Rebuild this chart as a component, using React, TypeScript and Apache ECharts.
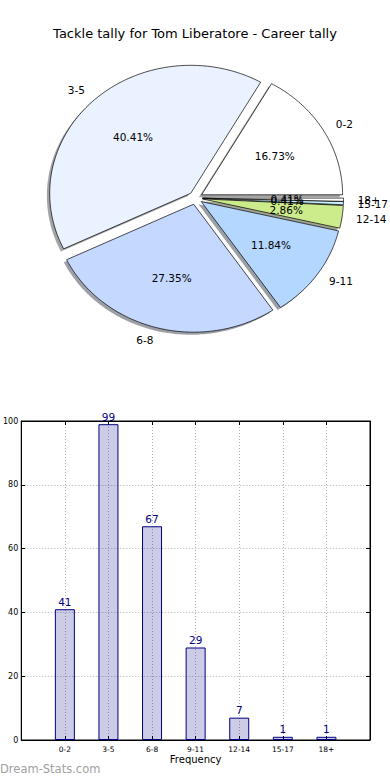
import React, { useEffect, useRef } from "react";
import * as echarts from "echarts";

const categories = ["0-2", "3-5", "6-8", "9-11", "12-14", "15-17", "18+"];
const counts = [41, 99, 67, 29, 7, 1, 1];
const sliceColors = ["#ffffff", "#eaf2ff", "#c5d8ff", "#b4d7ff", "#ccec8c", "#c8f0ff", "#ffffff"];
const titleText = "Tackle tally for Tom Liberatore - Career tally";
const xAxisName = "Frequency";
const watermark = "Dream-Stats.com";

const FONT = "DejaVu Sans";

export default function App() {
  const ref = useRef<HTMLDivElement>(null);
  useEffect(() => {
    document.body.style.margin = "0";
    const chart = echarts.init(ref.current!, null, { renderer: "svg" });
    const total = counts.reduce((a, b) => a + b, 0);
    const cum: number[] = [0];
    counts.forEach((v, i) => cum.push(cum[i] + v));

    const cx = 195.5;
    const cy = 198;
    const rx = 141;
    const ry = 128;
    const EXPL = 0.05;
    const SH = 0.02;

    const hexToRgb = (h: string) => {
      const n = parseInt(h.slice(1), 16);
      return [(n >> 16) & 255, (n >> 8) & 255, n & 255];
    };

    const renderItem = (params: any, api: any) => {
      const i = params.dataIndex;
      const v = api.value(0);
      const a0 = (cum[i] / total) * Math.PI * 2;
      const a1 = a0 + (v / total) * Math.PI * 2;
      const mid = (a0 + a1) / 2;
      const ox = cx + EXPL * rx * Math.cos(mid);
      const oy = cy - EXPL * ry * Math.sin(mid);
      const n = Math.max(2, Math.ceil((a1 - a0) / (Math.PI / 180)));
      const pts: number[][] = [[ox, oy]];
      for (let k = 0; k <= n; k++) {
        const t = a0 + ((a1 - a0) * k) / n;
        pts.push([ox + rx * Math.cos(t), oy - ry * Math.sin(t)]);
      }
      const sdx = -SH * rx;
      const sdy = SH * ry;
      const spts = pts.map((p) => [p[0] + sdx, p[1] + sdy]);
      const rgb = hexToRgb(sliceColors[i]);
      const shadowFill = `rgba(${Math.round(rgb[0] * 0.3)},${Math.round(rgb[1] * 0.3)},${Math.round(rgb[2] * 0.3)},0.5)`;
      const lx = cx + (1.1 + EXPL) * rx * Math.cos(mid);
      const ly = cy - (1.1 + EXPL) * ry * Math.sin(mid);
      const px = cx + (0.6 + EXPL) * rx * Math.cos(mid);
      const py = cy - (0.6 + EXPL) * ry * Math.sin(mid);
      return {
        type: "group",
        children: [
          { type: "polygon", shape: { points: spts }, style: { fill: shadowFill }, z2: 0, silent: true },
          {
            type: "polygon",
            shape: { points: pts },
            style: { fill: sliceColors[i], stroke: "#000", lineWidth: 0.7 },
            z2: 5,
          },
          {
            type: "text",
            x: lx,
            y: ly,
            style: {
              text: categories[i],
              fontSize: 10.5,
              fontFamily: FONT,
              fill: "#000",
              align: Math.cos(mid) > 0 ? "left" : "right",
              verticalAlign: "middle",
            },
            z2: 10,
          },
          {
            type: "text",
            x: px,
            y: py,
            style: {
              text: ((v / total) * 100).toFixed(2) + "%",
              fontSize: 10.5,
              fontFamily: FONT,
              fill: "#000",
              align: "center",
              verticalAlign: "middle",
            },
            z2: 10,
          },
        ],
      };
    };

    const gridLine = { show: true, lineStyle: { type: [1, 2] as any, color: "#b0b0b0", width: 1 } };
    const frameLine = { show: true, onZero: false, lineStyle: { color: "#000" } };
    const tick = { show: true, inside: true, length: 4, lineStyle: { color: "#000" } };

    chart.setOption({
      animation: false,
      textStyle: { fontFamily: FONT },
      title: {
        text: titleText,
        left: "center",
        top: 22,
        textStyle: { fontSize: 13, fontWeight: "normal", color: "#000", fontFamily: FONT },
      },
      graphic: [
        {
          type: "text",
          left: 0,
          top: 763,
          style: { text: watermark, fontSize: 11.5, fontFamily: FONT, fill: "#a0a0a0" },
        },
      ],
      grid: { left: 19, right: 20, top: 421, bottom: 40, show: true, borderColor: "#000", borderWidth: 1, backgroundColor: "transparent" },
      xAxis: [
        {
          type: "value",
          min: -1,
          max: 7,
          interval: 1,
          axisLine: frameLine,
          axisTick: tick,
          axisLabel: {
            fontSize: 7.5,
            color: "#000",
            margin: 5,
            fontFamily: FONT,
            formatter: (v: number) => categories[v] ?? "",
          },
          splitLine: gridLine,
          name: xAxisName,
          nameLocation: "middle",
          nameGap: 14,
          nameTextStyle: { fontSize: 10, color: "#000", fontFamily: FONT },
        },
        {
          type: "value",
          position: "top",
          min: -1,
          max: 7,
          interval: 1,
          axisLine: frameLine,
          axisTick: tick,
          axisLabel: { show: false },
          splitLine: { show: false },
        },
      ],
      yAxis: [
        {
          type: "value",
          min: 0,
          max: 100,
          interval: 20,
          axisLine: frameLine,
          axisTick: tick,
          axisLabel: { fontSize: 8, color: "#000", margin: 3, fontFamily: FONT },
          splitLine: gridLine,
        },
        {
          type: "value",
          position: "right",
          min: 0,
          max: 100,
          interval: 20,
          axisLine: frameLine,
          axisTick: tick,
          axisLabel: { show: false },
          splitLine: { show: false },
        },
      ],
      series: [
        {
          type: "custom",
          coordinateSystem: "none",
          renderItem,
          data: counts,
          silent: true,
        },
        {
          type: "bar",
          xAxisIndex: 0,
          yAxisIndex: 0,
          data: counts.map((v, i) => [i, v]),
          barWidth: 20,
          itemStyle: { color: "rgba(0,0,128,0.2)", borderColor: "#000080", borderWidth: 1 },
          label: {
            show: true,
            position: "top",
            distance: 2,
            color: "#000080",
            fontSize: 10.5,
            fontFamily: FONT,
            formatter: (p: any) => String(p.value[1]),
          },
        },
      ],
    });
    return () => chart.dispose();
  }, []);
  return <div ref={ref} style={{ width: 390, height: 780 }} />;
}
